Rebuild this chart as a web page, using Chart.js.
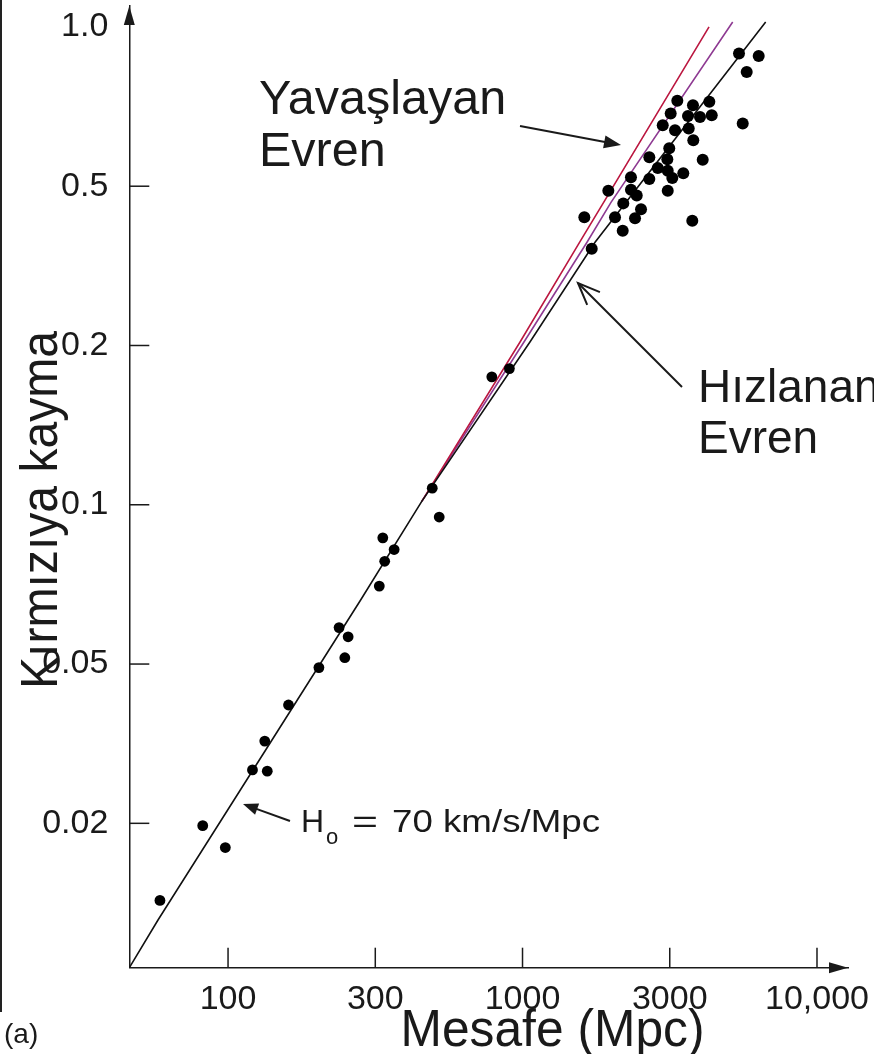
<!DOCTYPE html>
<html><head><meta charset="utf-8">
<script src="https://cdn.jsdelivr.net/npm/chart.js@4.4.1/dist/chart.umd.min.js"></script>
<style>html,body{margin:0;padding:0;background:#fff;overflow:hidden}#wrap{width:874px;height:1054px;position:relative}</style>
</head><body><div id="wrap"><canvas id="c" width="874" height="1054"></canvas></div>
<script>
// ---- data ----
const distancesMpc = [57.3, 81.3, 97.8, 120, 134, 131.5, 157, 197, 229, 245, 239, 310, 319, 350, 324, 478, 506, 778, 898,
  1586, 1897, 1676, 1994, 2112, 2121, 2246, 2246, 2345, 2315, 2421, 2576, 2576, 2743, 2946, 2989, 2955, 3063, 2955, 2847,
  3023, 3191, 3132, 3483, 3503, 3627, 3637, 3842, 4146, 4228, 3351, 3928, 3607, 5285, 6209, 5629, 5448];
const redshifts = [0.0143, 0.0198, 0.0180, 0.0272, 0.0270, 0.0321, 0.0395, 0.0490, 0.0586, 0.0563, 0.0514, 0.0702, 0.0866, 0.0823, 0.0782, 0.1075, 0.0948, 0.1745, 0.1809,
  0.418, 0.487, 0.349, 0.418, 0.387, 0.453, 0.520, 0.490, 0.474, 0.416, 0.438, 0.567, 0.516, 0.541, 0.562, 0.590, 0.535, 0.518, 0.487, 0.652,
  0.686, 0.725, 0.638, 0.679, 0.643, 0.711, 0.611, 0.676, 0.722, 0.681, 0.529, 0.561, 0.410, 0.891, 0.881, 0.822, 0.657];

const acceleratingMpc = [44.6, 56.4, 267.7, 438.7, 1057, 1718, 6573];
const acceleratingZ   = [0.01067, 0.01313, 0.0658, 0.1015, 0.2041, 0.3623, 1.022];
const deceleratingMpc = [438.7, 980, 1532, 1832, 4136];
const deceleratingZ   = [0.1015, 0.2041, 0.3623, 0.4556, 1.0003];
const middleMpc = [438.7, 1011, 1618, 1935, 5019];
const middleZ   = [0.1015, 0.2041, 0.3623, 0.4556, 1.022];

const xTickValues = [100, 300, 1000, 3000, 10000];
const xTickLabels = ['100', '300', '1000', '3000', '10,000'];
const yTickValues = [1.0, 0.5, 0.2, 0.1, 0.05, 0.02];
const yTickLabels = ['1.0', '0.5', '0.2', '0.1', '0.05', '0.02'];
const yTickMarks  = [0.5, 0.2, 0.1, 0.05, 0.02];
// equally spaced knots of the drawn axes (log interpolation between them)
const xKnots = [30, 100, 300, 1000, 3000, 10000, 30000];
const yKnots = [0.01, 0.02, 0.05, 0.1, 0.2, 0.5, 1.0, 2.0];

// ---- piecewise-log scale ----
const KNOTS = { x: xKnots, y: yKnots };
function knotIndex(k, v) {
  const L = Math.log10; let i = 0;
  while (i < k.length - 2 && v > k[i + 1]) i++;
  return i + (L(v) - L(k[i])) / (L(k[i + 1]) - L(k[i]));
}
function fromKnotIndex(k, f) {
  const L = Math.log10;
  let i = Math.max(0, Math.min(k.length - 2, Math.floor(f)));
  return Math.pow(10, L(k[i]) + (f - i) * (L(k[i + 1]) - L(k[i])));
}
class PiecewiseLogScale extends Chart.Scale {
  static id = 'piecewiseLog';
  static defaults = {};
  parse(raw) { return (raw === null || raw === undefined) ? null : +raw; }
  determineDataLimits() { this.min = this.options.min; this.max = this.options.max; }
  buildTicks() { return (this.id === 'x' ? xTickValues : yTickValues).map(v => ({ value: v })); }
  pwSpan() { const k = KNOTS[this.id]; return [knotIndex(k, this.min), knotIndex(k, this.max)]; }
  getPixelForValue(v) {
    if (v === null || v === undefined || isNaN(v)) return NaN;
    const sp = this.pwSpan();
    return this.getPixelForDecimal((knotIndex(KNOTS[this.id], v) - sp[0]) / (sp[1] - sp[0]));
  }
  getValueForPixel(p) {
    const sp = this.pwSpan();
    return fromKnotIndex(KNOTS[this.id], sp[0] + this.getDecimalForPixel(p) * (sp[1] - sp[0]));
  }
  getLabelForValue(v) { return String(v); }
}
Chart.register(PiecewiseLogScale);

const FONT = '"Liberation Sans", Arial, Helvetica, sans-serif';
const INK = '#1a1a1a';

const pts = distancesMpc.map((d, i) => ({ x: d, y: redshifts[i] }));
const mk = (xs, ys) => xs.map((d, i) => ({ x: d, y: ys[i] }));

function arrowHead(ctx, tx, ty, fx, fy, len, half, filled) {
  const a = Math.atan2(ty - fy, tx - fx);
  const bx = tx - len * Math.cos(a), by = ty - len * Math.sin(a);
  const px = -Math.sin(a) * half, py = Math.cos(a) * half;
  ctx.beginPath();
  if (filled) {
    ctx.moveTo(tx, ty); ctx.lineTo(bx + px, by + py); ctx.lineTo(bx - px, by - py); ctx.closePath(); ctx.fill();
  } else {
    ctx.moveTo(bx + px, by + py); ctx.lineTo(tx, ty); ctx.lineTo(bx - px, by - py); ctx.stroke();
  }
}
function arrow(ctx, fx, fy, tx, ty, len, half, filled) {
  const a = Math.atan2(ty - fy, tx - fx);
  ctx.beginPath(); ctx.moveTo(fx, fy);
  ctx.lineTo(filled ? tx - len * 0.8 * Math.cos(a) : tx, filled ? ty - len * 0.8 * Math.sin(a) : ty);
  ctx.stroke();
  arrowHead(ctx, tx, ty, fx, fy, len, half, filled);
}
// draw text squeezed/stretched horizontally to a given width (anchor: left or centre)
function fitText(ctx, text, x, y, width, centre) {
  const w = ctx.measureText(text).width, s = width / w;
  ctx.save(); ctx.translate(x, y); ctx.scale(s, 1);
  ctx.textAlign = 'left'; ctx.fillText(text, centre ? -w / 2 : 0, 0); ctx.restore();
}

const decor = {
  id: 'decor',
  beforeDraw(chart) {
    const ctx = chart.ctx; ctx.save(); ctx.fillStyle = '#fff'; ctx.fillRect(0, 0, chart.width, chart.height);
    ctx.fillStyle = '#222'; ctx.fillRect(0, 0, 2, 1012); ctx.restore();
  },
  afterDraw(chart) {
    const ctx = chart.ctx, xs = chart.scales.x, ys = chart.scales.y, ca = chart.chartArea;
    ctx.save();
    ctx.strokeStyle = INK; ctx.fillStyle = INK; ctx.lineWidth = 1.5;
    xTickValues.forEach(v => { const p = xs.getPixelForValue(v); ctx.beginPath(); ctx.moveTo(p, ca.bottom); ctx.lineTo(p, ca.bottom - 20); ctx.stroke(); });
    yTickMarks.forEach(v => { const p = ys.getPixelForValue(v); ctx.beginPath(); ctx.moveTo(ca.left, p); ctx.lineTo(ca.left + 20, p); ctx.stroke(); });
    arrowHead(ctx, ca.left, ca.top, ca.left, ca.bottom, 19, 5.5, true);
    arrowHead(ctx, ca.right, ca.bottom, ca.left, ca.bottom, 19, 5.5, true);
    ctx.lineWidth = 2;
    arrow(ctx, 520, 126, 621, 145, 17, 6.5, true);
    arrow(ctx, 682, 387, 578, 283, 22, 9, false);
    arrow(ctx, 290, 821, 243, 804, 15, 6, true);
    ctx.textBaseline = 'alphabetic'; ctx.textAlign = 'left';
    ctx.font = '48.5px ' + FONT;
    ctx.fillText('Yavaşlayan', 259, 114);
    ctx.fillText('Evren', 259, 166);
    ctx.font = '46px ' + FONT;
    ctx.fillText('Hızlanan', 698, 402);
    ctx.fillText('Evren', 698, 453);
    ctx.font = '32px ' + FONT;
    ctx.fillText('H', 301, 832);
    ctx.font = '22px ' + FONT;
    ctx.fillText('o', 326, 844);
    ctx.font = '32px ' + FONT;
    fitText(ctx, '=', 352, 832, 26);
    fitText(ctx, '70 km/s/Mpc', 392, 832, 208);
    ctx.font = '28px ' + FONT;
    ctx.fillText('(a)', 4, 1043);
    ctx.font = '52px ' + FONT;
    fitText(ctx, 'Mesafe (Mpc)', 552.5, 1046, 304, true);
    ctx.translate(57, 510); ctx.rotate(-Math.PI / 2);
    fitText(ctx, 'Kırmızıya kayma', 0, 0, 358, true);
    ctx.restore();
  }
};

new Chart(document.getElementById('c'), {
  type: 'scatter',
  data: {
    datasets: [
      { label: 'Gözlemler', data: pts, backgroundColor: '#000', borderColor: '#000', pointRadius: c => (c.raw && c.raw.y > 0.3 ? 6 : 5.4), pointBorderWidth: 0, order: 0 },
      { label: 'Hızlanan Evren', data: mk(acceleratingMpc, acceleratingZ), showLine: true, borderColor: '#111', borderWidth: 1.6, pointRadius: 0, tension: 0, fill: false, order: 1 },
      { label: 'Yavaşlayan Evren', data: mk(deceleratingMpc, deceleratingZ), showLine: true, borderColor: '#bb1740', borderWidth: 1.6, pointRadius: 0, tension: 0, fill: false, order: 2 },
      { label: 'Ara model', data: mk(middleMpc, middleZ), showLine: true, borderColor: '#8e3a92', borderWidth: 1.6, pointRadius: 0, tension: 0, fill: false, order: 2 }
    ]
  },
  options: {
    responsive: false, animation: false, devicePixelRatio: 1,
    layout: { padding: { top: 3, right: 26, left: 0, bottom: 0 } },
    plugins: { legend: { display: false }, tooltip: { enabled: false } },
    scales: {
      x: {
        type: 'piecewiseLog', position: 'bottom', min: 44.6, max: 12603,
        grid: { display: false, drawTicks: false },
        border: { display: true, color: INK, width: 1.5 },
        ticks: { autoSkip: false, maxRotation: 0, padding: 12, color: INK, font: { family: FONT, size: 34 }, callback: (v, i) => xTickLabels[i] },
        afterFit: s => { s.height = 86.3; s.paddingLeft = 0; s.paddingRight = 0; }
      },
      y: {
        type: 'piecewiseLog', position: 'left', min: 0.01067, max: 1.0954,
        grid: { display: false, drawTicks: false },
        border: { display: true, color: INK, width: 1.5 },
        ticks: { autoSkip: false, padding: 21, color: INK, font: { family: FONT, size: 34 }, callback: (v, i) => yTickLabels[i] },
        afterFit: s => { s.width = 129.3; s.paddingTop = 0; s.paddingBottom = 0; }
      }
    }
  },
  plugins: [decor]
});
</script></body></html>
